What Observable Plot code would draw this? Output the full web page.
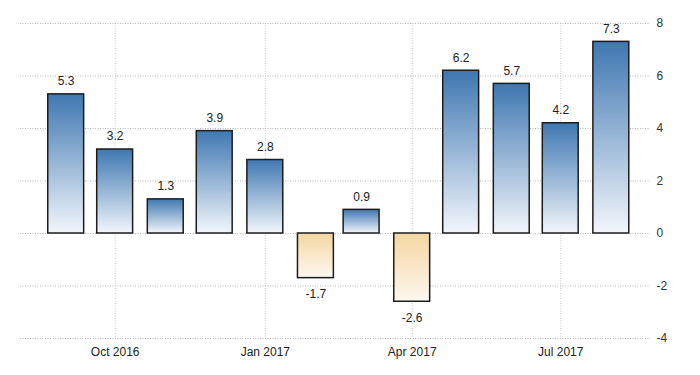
<!DOCTYPE html>
<html>
<head>
<meta charset="utf-8">
<script src="https://cdn.jsdelivr.net/npm/d3@7"></script>
<script src="https://cdn.jsdelivr.net/npm/@observablehq/plot@0.6"></script>
<style>
  html, body { margin: 0; padding: 0; background: #fff; }
  #chart svg, #chart svg text { font-family: "Liberation Sans", sans-serif; font-stretch: condensed; }
</style>
</head>
<body>
<div id="chart"></div>
<script>
const months = ["2016-09", "2016-10", "2016-11", "2016-12", "2017-01", "2017-02",
                "2017-03", "2017-04", "2017-05", "2017-06", "2017-07", "2017-08"];
const values = [5.3, 3.2, 1.3, 3.9, 2.8, -1.7, 0.9, -2.6, 6.2, 5.7, 4.2, 7.3];
const xTickLabels = ["2016-10", "2017-01", "2017-04", "2017-07"];
const yTicks = [-4, -2, 0, 2, 4, 6, 8];

const data = months.map((m, i) => ({date: new Date(m + "-01T00:00:00Z"), value: values[i]}));
const xTicks = xTickLabels.map(m => new Date(m + "-01T00:00:00Z"));
const pos = data.filter(d => d.value >= 0);
const neg = data.filter(d => d.value < 0);

const halfWidth = 11; // days each side of bar center
const x1 = d => d3.utcDay.offset(d.date, -halfWidth);
const x2 = d => d3.utcDay.offset(d.date, halfWidth);

const chart = Plot.plot({
  width: 700,
  height: 375,
  marginLeft: 20,
  marginRight: 50,
  marginTop: 23,
  marginBottom: 37,
  style: {fontSize: "12px", color: "#333", background: "#fff"},
  x: {type: "utc", domain: [new Date("2016-08-04T00:00:00Z"), new Date("2017-08-25T00:00:00Z")]},
  y: {domain: [-4, 8]},
  marks: [
    Plot.gridY(yTicks, {stroke: "#b8b8b8", strokeOpacity: 1, strokeDasharray: "1,1.5"}),
    Plot.gridX(xTicks, {stroke: "#c8c8c8", strokeOpacity: 1, strokeDasharray: "1,1.5"}),
    Plot.axisY(yTicks, {anchor: "right", tickSize: 0, tickPadding: 6, label: null, tickFormat: d => String(d), fill: "#333", fontSize: 12}),
    Plot.axisX(xTicks, {anchor: "bottom", tickSize: 0, tickPadding: 9, label: null, tickFormat: d3.utcFormat("%b %Y"), fill: "#222", fontSize: 12}),
    Plot.rectY(pos, {x1, x2, y1: 0, y2: "value", fill: "url(#gBlue)", stroke: "#1c1c1c", strokeWidth: 1.5}),
    Plot.rectY(neg, {x1, x2, y1: 0, y2: "value", fill: "url(#gOrange)", stroke: "#1c1c1c", strokeWidth: 1.5}),
    Plot.text(pos, {x: "date", y: "value", text: d => d.value.toFixed(1), dy: -13, fill: "#222", fontSize: 12}),
    Plot.text(neg, {x: "date", y: "value", text: d => d.value.toFixed(1), dy: 16, fill: "#222", fontSize: 12})
  ]
});

const defs = d3.select(chart).insert("defs", ":first-child");
const blue = defs.append("linearGradient").attr("id", "gBlue").attr("x1", 0).attr("y1", 0).attr("x2", 0).attr("y2", 1);
blue.append("stop").attr("offset", "0%").attr("stop-color", "#3f77b1");
blue.append("stop").attr("offset", "100%").attr("stop-color", "#f2f6fb");
const orange = defs.append("linearGradient").attr("id", "gOrange").attr("x1", 0).attr("y1", 0).attr("x2", 0).attr("y2", 1);
orange.append("stop").attr("offset", "0%").attr("stop-color", "#f4d6a2");
orange.append("stop").attr("offset", "100%").attr("stop-color", "#fdf8f0");

document.getElementById("chart").appendChild(chart);
</script>
</body>
</html>
